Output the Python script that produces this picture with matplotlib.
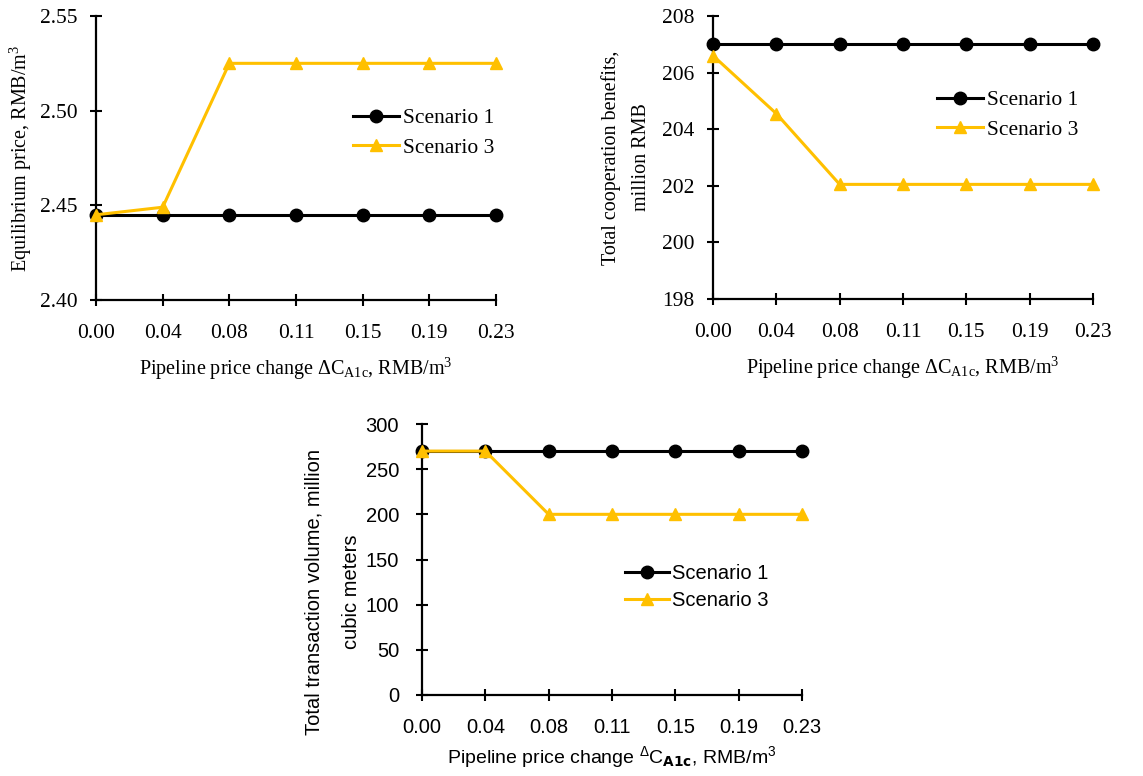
import matplotlib
matplotlib.use("Agg")
import matplotlib.pyplot as plt

plt.rcParams['mathtext.default'] = 'regular'

categories = ["0.00", "0.04", "0.08", "0.11", "0.15", "0.19", "0.23"]
price_s1 = [2.445, 2.445, 2.445, 2.445, 2.445, 2.445, 2.445]
price_s3 = [2.445, 2.449, 2.525, 2.525, 2.525, 2.525, 2.525]
benefit_s1 = [207.0, 207.0, 207.0, 207.0, 207.0, 207.0, 207.0]
benefit_s3 = [206.6, 204.55, 202.05, 202.05, 202.05, 202.05, 202.05]
volume_s1 = [270, 270, 270, 270, 270, 270, 270]
volume_s3 = [270, 270, 200, 200, 200, 200, 200]
series_names = ["Scenario 1", "Scenario 3"]

W, H = 1143, 776
fig = plt.figure(figsize=(W / 100, H / 100), dpi=100)

def add_ax(l, r, t, b):
    return fig.add_axes([l / W, 1 - b / H, (r - l) / W, (b - t) / H])

BLACK = "#000000"
GOLD = "#FFC000"

def style(ax, ylim, yticks, fmt, font, fs, ypad, xpad):
    x = list(range(len(categories)))
    ax.set_xlim(0, len(categories) - 1)
    ax.set_ylim(*ylim)
    ax.set_yticks(yticks)
    ax.set_yticklabels([fmt.format(v) for v in yticks], family=font, fontsize=fs)
    ax.set_xticks(x)
    ax.set_xticklabels(categories, family=font, fontsize=fs)
    for s in ["top", "right"]:
        ax.spines[s].set_visible(False)
    for s in ["left", "bottom"]:
        ax.spines[s].set_linewidth(1.6)
        ax.spines[s].set_color("black")
    ax.tick_params(direction="inout", length=9, width=1.5)
    ax.tick_params(axis="y", pad=ypad)
    ax.tick_params(axis="x", pad=xpad)
    ax.patch.set_alpha(0)

def draw(ax, s1, s3):
    x = list(range(len(categories)))
    ax.plot(x, s1, color=BLACK, lw=2.2, marker="o", ms=9, clip_on=False,
            label=series_names[0], zorder=3)
    ax.plot(x, s3, color=GOLD, lw=2.2, marker="^", ms=8.5, clip_on=False,
            label=series_names[1], zorder=4)

def legend(ax, xpix, ypix, font, fs, hl, ls):
    ax.legend(loc="center left", bbox_to_anchor=(xpix / W, 1 - ypix / H),
              bbox_transform=fig.transFigure, frameon=False, handlelength=hl,
              handletextpad=0.15, labelspacing=ls, borderpad=0, borderaxespad=0,
              prop={"family": font, "size": fs})

SERIF = "Liberation Serif"
SANS = "Liberation Sans"

# Chart 1
ax1 = add_ax(96, 496, 16, 300)
draw(ax1, price_s1, price_s3)
style(ax1, (2.40, 2.55), [2.40, 2.45, 2.50, 2.55], "{:.2f}", SERIF, 15.5, 9, 13)
ax1.set_ylabel("Equilibrium price, RMB/m$^3$", family=SERIF, fontsize=14.5, labelpad=4)
ax1.set_xlabel(r"Pipeline price change $\Delta C_{A1c}$, RMB/m$^3$", family=SERIF,
               fontsize=14.5, labelpad=9)
legend(ax1, 353, 133, SERIF, 15.5, 2.15, 0.42)

# Chart 2
ax2 = add_ax(713, 1093, 16, 299)
draw(ax2, benefit_s1, benefit_s3)
style(ax2, (198, 208), [198, 200, 202, 204, 206, 208], "{:.0f}", SERIF, 15.5, 9, 13)
ax2.set_ylabel("Total cooperation benefits,\nmillion RMB", family=SERIF, fontsize=14.5,
               labelpad=8, linespacing=1.75)
ax2.set_xlabel(r"Pipeline price change $\Delta C_{A1c}$, RMB/m$^3$", family=SERIF,
               fontsize=14.5, labelpad=9)
legend(ax2, 937, 115, SERIF, 15.5, 2.15, 0.42)

# Chart 3
ax3 = add_ax(422, 802, 424, 695)
draw(ax3, volume_s1, volume_s3)
style(ax3, (0, 300), [0, 50, 100, 150, 200, 250, 300], "{:.0f}", SANS, 14.5, 12, 12)
ax3.set_ylabel("Total transaction volume, million\ncubic meters", family=SANS,
               fontsize=14.5, linespacing=2.25)
ax3.yaxis.set_label_coords((361 - 422) / 380, (695 - 592) / 271)
ax3.set_xlabel(r"Pipeline price change $^{\Delta}C_{\mathbf{A1c}}$, RMB/m$^3$", family=SANS,
               fontsize=14, labelpad=5)
legend(ax3, 625, 587, SANS, 14.5, 2.2, 0.38)

fig.savefig("out.png", dpi=100)
